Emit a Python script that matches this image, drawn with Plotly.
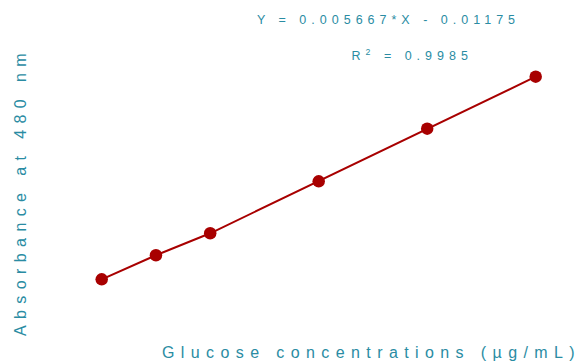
import plotly.graph_objects as go

# Glucose standard curve (phenol–sulfuric acid, read at 480 nm)
glucose_ug_ml = [20, 30, 40, 60, 80, 100]
absorbance = [0.102, 0.1557, 0.2049, 0.3211, 0.4388, 0.555]

equation_text = "Y = 0.005667*X - 0.01175"
r2_text = "R<sup>2</sup> = 0.9985"
x_title = "Glucose concentrations (µg/mL)"
y_title = "Absorbance at 480 nm"

W, H = 584, 362
TEAL = "#2a8ca3"
RED = "#a80000"
FONT = "Arial, Liberation Sans, sans-serif"

fig = go.Figure(
    go.Scatter(
        x=glucose_ug_ml,
        y=absorbance,
        mode="lines+markers",
        line=dict(color=RED, width=2),
        marker=dict(color=RED, size=12.5),
        cliponaxis=False,
        showlegend=False,
    )
)


def px(x, y):
    """Figure pixel position -> paper coordinates (margins are zero)."""
    return x / W, 1 - y / H


annotations = []
for text, (cx, cy), size, angle in [
    (equation_text, (388, 20), 12.5, 0),
    (r2_text, (412, 55), 12.5, 0),
    (x_title, (371, 352), 16, 0),
    (y_title, (20, 192), 16, -90),
]:
    ax, ay = px(cx, cy)
    annotations.append(
        dict(
            text=text, x=ax, y=ay, xref="paper", yref="paper",
            xanchor="center", yanchor="middle", showarrow=False,
            textangle=angle, font=dict(family=FONT, size=size, color=TEAL),
        )
    )

fig.update_layout(
    width=W,
    height=H,
    margin=dict(l=0, r=0, t=0, b=0),
    paper_bgcolor="white",
    plot_bgcolor="white",
    annotations=annotations,
    xaxis=dict(range=[1.253, 108.903], visible=False),
    yaxis=dict(range=[-0.0829, 0.7265], visible=False),
)

# widely tracked lettering on the labels
spacing_css = """
var s = document.createElement('style');
s.textContent =
  '.annotation[data-index="0"] text, .annotation[data-index="1"] text {letter-spacing: 0.4em;}' +
  '.annotation[data-index="2"] text {letter-spacing: 0.40em;}' +
  '.annotation[data-index="3"] text {letter-spacing: 0.40em;}';
document.head.appendChild(s);
"""

fig.write_html("out.html", post_script=spacing_css, config={"displayModeBar": False})
